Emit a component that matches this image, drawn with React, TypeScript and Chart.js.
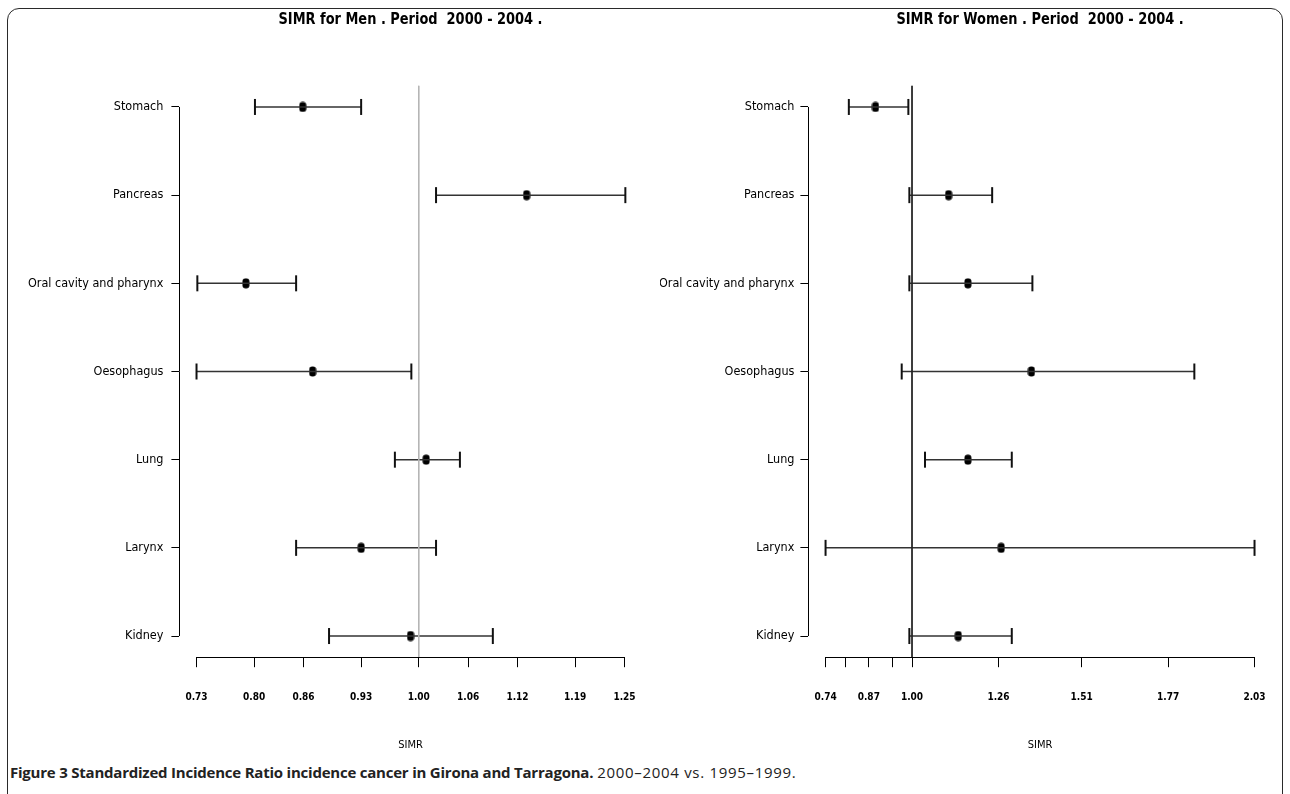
import React, { useEffect, useRef } from "react";
import { Chart, registerables } from "chart.js";

Chart.register(...registerables);

// ---------- data ----------
const categories = [
  "Stomach",
  "Pancreas",
  "Oral cavity and pharynx",
  "Oesophagus",
  "Lung",
  "Larynx",
  "Kidney",
];

const menEstimate = [0.859, 1.131, 0.79, 0.871, 1.009, 0.93, 0.99];
const menLower = [0.801, 1.021, 0.731, 0.73, 0.971, 0.851, 0.891];
const menUpper = [0.93, 1.251, 0.851, 0.991, 1.05, 1.021, 1.09];

const womenEstimate = [0.89, 1.11, 1.168, 1.359, 1.168, 1.268, 1.139];
const womenLower = [0.81, 0.992, 0.992, 0.969, 1.039, 0.74, 0.992];
const womenUpper = [0.989, 1.241, 1.362, 1.849, 1.3, 2.03, 1.3];

const menTicks = [0.73, 0.8, 0.86, 0.93, 1.0, 1.06, 1.12, 1.19, 1.25];
const menTickLabels = ["0.73", "0.80", "0.86", "0.93", "1.00", "1.06", "1.12", "1.19", "1.25"];
const womenTicks = [0.74, 0.8, 0.87, 0.94, 1.0, 1.26, 1.51, 1.77, 2.03];
const womenTickLabels = ["0.74", "", "0.87", "", "1.00", "1.26", "1.51", "1.77", "2.03"];

const menTitle = "SIMR for Men . Period  2000 - 2004 .";
const womenTitle = "SIMR for Women . Period  2000 - 2004 .";
const axisTitle = "SIMR";
const referenceValue = 1;

const NARROW = "'Liberation Sans Narrow', 'Arial Narrow', 'DejaVu Sans Condensed', 'Liberation Sans', sans-serif";

function makeMarker(): HTMLCanvasElement {
  const c = document.createElement("canvas");
  c.width = 8;
  c.height = 11;
  const g = c.getContext("2d")!;
  g.fillStyle = "#000";
  g.beginPath();
  (g as any).roundRect(0.5, 0.5, 7, 10, 3.2);
  g.fill();
  return c;
}

// R-style detached axis lines (from first to last tick) drawn with the chart's own scales
const axisLinesPlugin = {
  id: "rAxisLines",
  afterDraw(chart: any) {
    const { ctx, chartArea, scales } = chart;
    const x = scales.x;
    const y = scales.y;
    ctx.save();
    ctx.strokeStyle = "#000";
    ctx.lineWidth = 1;
    ctx.beginPath();
    const xt = x.ticks;
    const by = Math.round(chartArea.bottom) + 0.5;
    ctx.moveTo(x.getPixelForValue(xt[0].value), by);
    ctx.lineTo(x.getPixelForValue(xt[xt.length - 1].value), by);
    const yt = y.ticks;
    const lx = Math.round(chartArea.left) + 0.5;
    ctx.moveTo(lx, y.getPixelForValue(yt[0].value));
    ctx.lineTo(lx, y.getPixelForValue(yt[yt.length - 1].value));
    ctx.stroke();
    ctx.restore();
  },
};

// Title centred over the plot region (as R's title() does)
const panelTitlePlugin = {
  id: "panelTitle",
  afterDraw(chart: any, _args: any, opts: any) {
    const { ctx, chartArea } = chart;
    ctx.save();
    ctx.font = `bold ${opts.size}px ${NARROW}`;
    ctx.fillStyle = "#000";
    ctx.textAlign = "center";
    ctx.textBaseline = "middle";
    ctx.translate((chartArea.left + chartArea.right) / 2, opts.y);
    ctx.scale(opts.scaleX, 1);
    ctx.fillText(opts.text, 0, 0);
    ctx.restore();
  },
};

interface PanelProps {
  left: number;
  width: number;
  title: string;
  est: number[];
  lo: number[];
  hi: number[];
  ticks: number[];
  tickLabels: string[];
  refColor: string;
  padRight: number;
  yWidth: number;
  labelPad: number;
}

const CANVAS_H = 760;

function Panel(p: PanelProps) {
  const ref = useRef<HTMLCanvasElement | null>(null);
  useEffect(() => {
    if (!ref.current) return;
    const tMin = p.ticks[0];
    const tMax = p.ticks[p.ticks.length - 1];
    const ext = (tMax - tMin) * 0.04;
    const n = categories.length;
    const yExt = (n - 1) * 0.04;
    const marker = makeMarker();

    const datasets: any[] = [];
    datasets.push({
      data: [
        { x: referenceValue, y: -yExt },
        { x: referenceValue, y: n - 1 + yExt },
      ],
      showLine: true,
      borderColor: p.refColor,
      borderWidth: 1,
      pointRadius: 0,
    });
    categories.forEach((_, i) => {
      datasets.push({
        data: [
          { x: p.lo[i], y: i },
          { x: p.hi[i], y: i },
        ],
        showLine: true,
        borderColor: "#333",
        borderWidth: 1.5,
        pointStyle: "line",
        pointRadius: 8,
        pointRotation: 90,
        pointBorderColor: "#111",
        pointBorderWidth: 2,
      });
    });
    datasets.push({
      data: p.est.map((v, i) => ({ x: v, y: i })),
      pointStyle: marker,
      pointRadius: 5,
    });

    const chart = new Chart(ref.current, {
      type: "scatter",
      data: { datasets },
      plugins: [axisLinesPlugin, panelTitlePlugin],
      options: {
        animation: false,
        responsive: false,
        events: [],
        clip: false as any,
        layout: { padding: { left: 0, right: p.padRight, top: 85.8, bottom: 0 } },
        plugins: {
          legend: { display: false },
          tooltip: { enabled: false },
          title: { display: false },
          panelTitle: { text: p.title, size: 16, y: 20, scaleX: 0.9 },
        },
        scales: {
          x: {
            type: "linear",
            min: tMin - ext,
            max: tMax + ext,
            afterBuildTicks: (s: any) => {
              s.ticks = p.ticks.map((v) => ({ value: v }));
            },
            afterFit: (s: any) => {
              s.height = CANVAS_H - 657.2;
            },
            border: { display: false },
            grid: {
              display: true,
              drawOnChartArea: false,
              drawTicks: true,
              tickLength: 10,
              color: "#000",
              lineWidth: 1,
            },
            ticks: {
              autoSkip: false,
              maxRotation: 0,
              padding: 24,
              color: "#000",
              font: { family: NARROW, size: 10, weight: "bold" },
              callback: (_v: any, i: number) => p.tickLabels[i],
            },
            title: {
              display: true,
              text: axisTitle,
              color: "#000",
              font: { family: NARROW, size: 11 },
              padding: { top: 0, bottom: 8 },
            },
          },
          y: {
            type: "linear",
            reverse: true,
            min: -yExt,
            max: n - 1 + yExt,
            afterBuildTicks: (s: any) => {
              s.ticks = categories.map((_, i) => ({ value: i }));
            },
            afterFit: (s: any) => {
              s.width = p.yWidth;
            },
            border: { display: false },
            grid: {
              display: true,
              drawOnChartArea: false,
              drawTicks: true,
              tickLength: 8,
              color: "#000",
              lineWidth: 1,
            },
            ticks: {
              autoSkip: false,
              padding: p.labelPad,
              color: "#000",
              font: { family: NARROW, size: 12.5 },
              callback: (_v: any, i: number) => categories[i],
            },
          },
        },
      } as any,
    });
    return () => chart.destroy();
  }, []);
  return (
    <canvas
      ref={ref}
      width={p.width}
      height={CANVAS_H}
      style={{ position: "absolute", left: p.left, top: 0, width: p.width, height: CANVAS_H }}
    />
  );
}

export default function App() {
  return (
    <div
      style={{
        position: "absolute",
        left: 0,
        top: 0,
        width: 1290,
        height: 794,
        overflow: "hidden",
        background: "#fff",
      }}
    >
      <div
        style={{
          position: "absolute",
          left: 7,
          top: 8,
          width: 1274,
          height: 840,
          border: "1.5px solid #2a2a2a",
          borderRadius: 12,
        }}
      />
      <Panel
        left={0}
        width={660}
        title={menTitle}
        est={menEstimate}
        lo={menLower}
        hi={menUpper}
        ticks={menTicks}
        tickLabels={menTickLabels}
        refColor="#b5b5b5"
        padRight={5.4}
        yWidth={179.4}
        labelPad={8}
      />
      <Panel
        left={660}
        width={630}
        title={womenTitle}
        est={womenEstimate}
        lo={womenLower}
        hi={womenUpper}
        ticks={womenTicks}
        tickLabels={womenTickLabels}
        refColor="#222"
        padRight={6.4}
        yWidth={148.4}
        labelPad={6}
      />
      <div
        style={{
          position: "absolute",
          left: 10,
          top: 762,
          whiteSpace: "nowrap",
          fontFamily: "'Open Sans', sans-serif",
          fontSize: 15,
          color: "#222",
        }}
      >
        <b style={{ letterSpacing: -0.22 }}>
          Figure 3 Standardized Incidence Ratio incidence cancer in Girona and Tarragona.
        </b>{" "}
        <span style={{ letterSpacing: 0.7 }}>2000–2004 vs. 1995–1999.</span>
      </div>
    </div>
  );
}
